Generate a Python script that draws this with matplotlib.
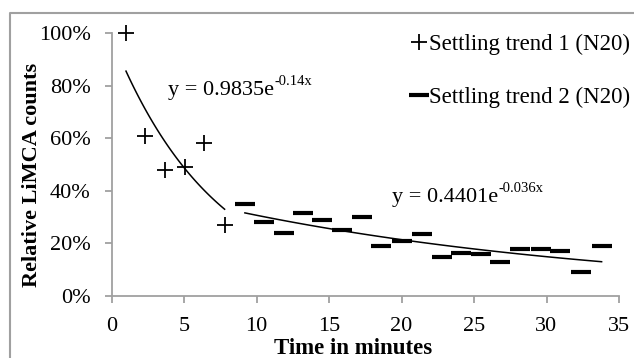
import matplotlib
matplotlib.use("Agg")
import matplotlib.pyplot as plt
import numpy as np
from matplotlib.lines import Line2D
from matplotlib.ticker import PercentFormatter
from matplotlib.transforms import offset_copy

plt.rcParams['font.family'] = ['Liberation Serif', 'DejaVu Serif']

# data
t1_x = [1.0, 2.3, 3.7, 5.1, 6.4, 7.8]
t1_y = [1.00, 0.61, 0.48, 0.49, 0.58, 0.27]
t2_x = [9.2, 10.5, 11.9, 13.2, 14.5, 15.9, 17.3, 18.6, 20.0, 21.4,
        22.8, 24.1, 25.5, 26.8, 28.2, 29.6, 30.9, 32.4, 33.8]
t2_y = [0.35, 0.28, 0.24, 0.315, 0.29, 0.25, 0.30, 0.19, 0.21, 0.235,
        0.15, 0.165, 0.16, 0.13, 0.18, 0.18, 0.172, 0.092, 0.19]
fit1_a, fit1_b = 0.9835, -0.14
fit2_a, fit2_b = 0.4401, -0.036
eq1_main, eq1_sup = 'y = 0.9835e', '-0.14x'
eq2_main, eq2_sup = 'y = 0.4401e', '-0.036x'
x_ticks = [0, 5, 10, 15, 20, 25, 30, 35]
y_ticks = [0, 0.2, 0.4, 0.6, 0.8, 1.0]

W, H = 634, 358
fig = plt.figure(figsize=(W / 100, H / 100), dpi=100)
ax = fig.add_axes([111.5 / W, 1 - 296 / H, (619 - 111.5) / W, (296 - 33) / H])

gray = '#a0a0a0'
ax.plot(t1_x, t1_y, ls='none', marker='+', ms=11, mew=1.3, color='black',
        clip_on=False, label='Settling trend 1 (N20)')
ax.plot(t2_x, t2_y, ls='none', marker='_', ms=14, mew=3, color='black',
        clip_on=False, label='Settling trend 2 (N20)')

xf1 = np.linspace(t1_x[0], t1_x[-1], 100)
ax.plot(xf1, fit1_a * np.exp(fit1_b * xf1), color='black', lw=1.1)
xf2 = np.linspace(t2_x[0], t2_x[-1], 100)
ax.plot(xf2, fit2_a * np.exp(fit2_b * xf2), color='black', lw=1.1)

ax.set_xlim(0, 35)
ax.set_ylim(0, 1)
ax.set_xticks(x_ticks)
ax.set_yticks(y_ticks)
ax.yaxis.set_major_formatter(PercentFormatter(1.0, decimals=0))
for s in ['top', 'right']:
    ax.spines[s].set_visible(False)
for s in ['left', 'bottom']:
    ax.spines[s].set_color(gray)
    ax.spines[s].set_linewidth(1.3)
ax.tick_params(axis='both', direction='out', length=5, width=1.3, color=gray,
               labelsize=16, pad=10)
ax.patch.set_alpha(0)

leg = ax.legend(loc='upper right', bbox_to_anchor=(630 / W, 1 - 34 / H),
                bbox_transform=fig.transFigure, frameon=False, fontsize=16.5,
                handlelength=0.6, handletextpad=0.15, labelspacing=1.4,
                borderaxespad=0, borderpad=0)

fig.text(353 / W, 1 - 348 / H, 'Time in minutes', fontsize=16.5,
         fontweight='bold', ha='center', va='center')
fig.text(32 / W, 1 - 175 / H, 'Relative LiMCA counts', fontsize=16,
         fontweight='bold', ha='center', va='center', rotation=90)

fig.add_artist(Line2D([10 / W, 10 / W, 1.0], [0, 1 - 13 / H, 1 - 13 / H],
                      transform=fig.transFigure, color=gray, lw=1.5))

# equations with superscripts
eqs = [(168, 95, eq1_main, eq1_sup), (392, 202, eq2_main, eq2_sup)]
main_texts = []
for px, py, m, s in eqs:
    t = fig.text(px / W, 1 - py / H, m, fontsize=16, ha='left', va='baseline')
    main_texts.append((t, s))
fig.canvas.draw()
r = fig.canvas.get_renderer()
for t, s in main_texts:
    bb = t.get_window_extent(r)
    x0, y0 = t.get_position()
    tr = offset_copy(fig.transFigure, fig=fig, x=bb.width * 72 / 100 + 0.5,
                     y=7, units='points')
    fig.text(x0, y0, s, fontsize=10.5, ha='left', va='baseline', transform=tr)

fig.savefig('out.png', dpi=100)
